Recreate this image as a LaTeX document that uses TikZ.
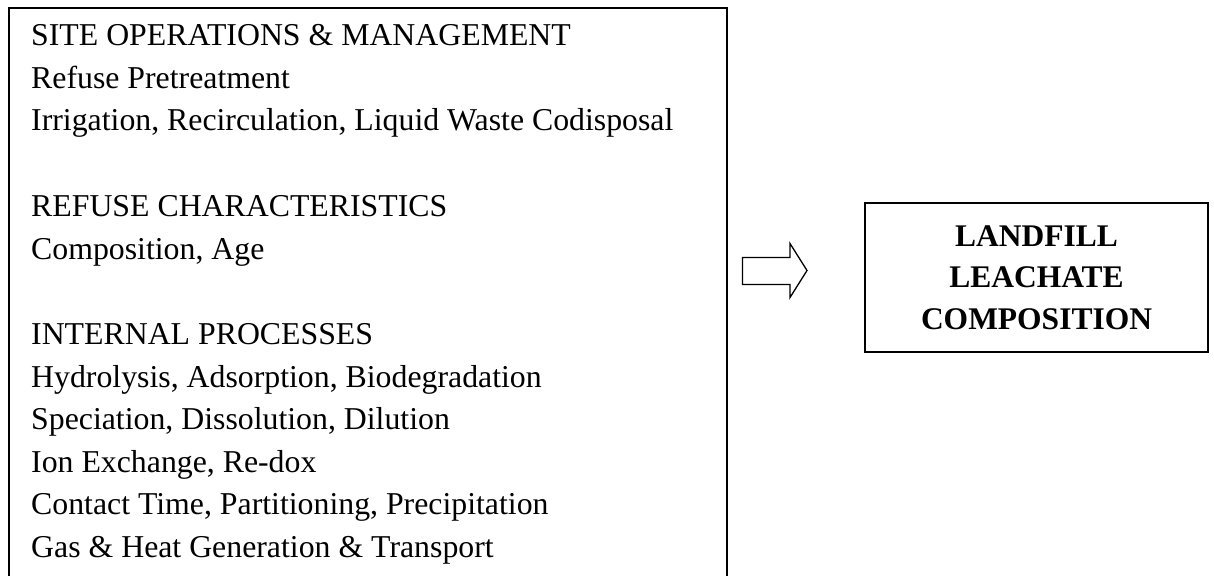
\documentclass[tikz,border=0pt]{standalone}
\usepackage{fontspec}
\setmainfont{Liberation Serif}
\begin{document}
\begin{tikzpicture}[x=1pt,y=-1pt,
  boxline/.style={draw=black,line width=1.7pt},
  itemtext/.style={anchor=base west,inner sep=0pt,font=\fontsize{31.8}{38}\selectfont},
  outbox/.style={boxline,minimum width=343pt,minimum height=149pt,inner sep=0pt,
    align=center,font=\fontsize{31.5}{41.5}\selectfont\bfseries}]
\useasboundingbox (0,0) rectangle (1214,575);
\fill[white] (0,0) rectangle (1214,575);
% left (open-bottom) box
\draw[boxline] (9,580) -- (9,8) -- (727,8) -- (727,580);
% left text lines
\node[itemtext] (l1) at (31,46) {SITE OPERATIONS \& MANAGEMENT};
\node[itemtext] (l2) at (31,89) {Refuse Pretreatment};
\node[itemtext] (l3) at (31,131) {Irrigation, Recirculation, Liquid Waste Codisposal};
\node[itemtext] (l4) at (31,216) {REFUSE CHARACTERISTICS};
\node[itemtext] (l5) at (31,259) {Composition, Age};
\node[itemtext] (l6) at (31,344) {INTERNAL PROCESSES};
\node[itemtext] (l7) at (31,387) {Hydrolysis, Adsorption, Biodegradation};
\node[itemtext] (l8) at (31,429) {Speciation, Dissolution, Dilution};
\node[itemtext] (l9) at (31,472) {Ion Exchange, Re-dox};
\node[itemtext] (l10) at (31,514) {Contact Time, Partitioning, Precipitation};
\node[itemtext] (l11) at (31,557) {Gas \& Heat Generation \& Transport};
% right box
\node[outbox] (out) at (1036.5,277.5) {LANDFILL\\LEACHATE\\COMPOSITION};
% block arrow
\draw[line width=1.3pt,line join=miter,fill=white]
  (742.5,257.5) -- (790,257.5) -- (790,243.5) -- (807,270.5) -- (790,297.5)
  -- (790,284.5) -- (742.5,284.5) -- cycle;
\end{tikzpicture}
\end{document}
